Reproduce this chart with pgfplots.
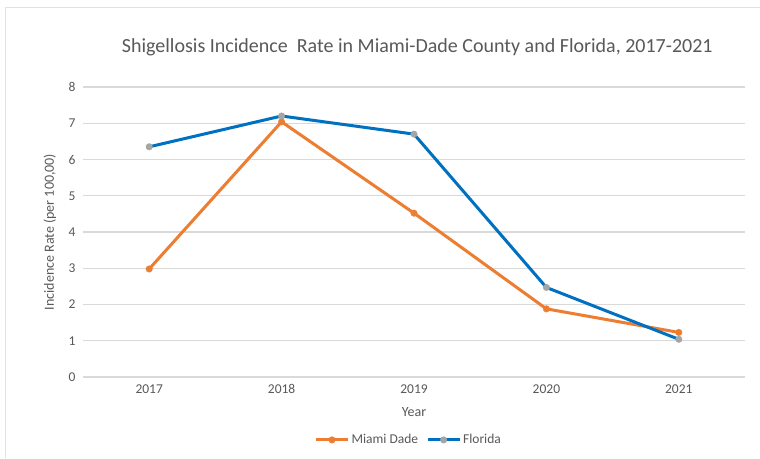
\documentclass[border=0pt]{standalone}
\usepackage{pgfplots}
\pgfplotsset{compat=1.18}
\usepackage{fontspec}
\setmainfont{Carlito}
\definecolor{mdorange}{HTML}{ED7D31}
\definecolor{flblue}{HTML}{0070C0}
\definecolor{mkgray}{HTML}{A5A5A5}
\definecolor{gridc}{HTML}{D9D9D9}
\definecolor{txt}{HTML}{595959}
\begin{document}
\begin{tikzpicture}[x=1pt,y=1pt]
\path[use as bounding box] (0,0) rectangle (760,458);
\fill[white] (0,0) rectangle (760,458);
\draw[gridc!80!white, line width=1pt] (5,0) -- (5,450) -- (760,450);
\begin{axis}[
  at={(83pt,81pt)}, anchor=south west,
  scale only axis, width=662pt, height=290pt,
  xmin=-0.5, xmax=4.5, ymin=0, ymax=8,
  xtick={0,1,2,3,4}, xticklabels={2017,2018,2019,2020,2021},
  ytick={0,1,...,8},
  axis line style={draw=none},
  tick style={draw=none},
  ymajorgrids, grid style={gridc, line width=1.2pt},
  /pgf/number format/assume math mode=true,
  ticklabel style={font=\fontsize{13.5}{15}\selectfont, text=txt},
  yticklabel style={xshift=-4pt},
  xticklabel style={yshift=-4pt, text height=9pt, text depth=0pt, anchor=north},
  title={Shigellosis Incidence\ \ Rate in Miami-Dade County and Florida, 2017-2021},
  title style={at={(rel axis cs:0.505,1.117)}, anchor=center, font=\fontsize{20}{23}\selectfont, text=txt},
  xlabel={Year},
  xlabel style={at={(rel axis cs:0.5,-0.121)}, anchor=center, font=\fontsize{14}{16}\selectfont, text=txt},
  ylabel={Incidence Rate (per 100,00)},
  ylabel style={at={(rel axis cs:-0.05,0.5)}, anchor=center, rotate=0, font=\fontsize{14}{16}\selectfont, text=txt},
  legend style={at={(rel axis cs:0.492,-0.217)}, anchor=center, draw=none, fill=none,
    font=\fontsize{13.5}{15}\selectfont, text=txt, legend columns=2,
    /tikz/every even column/.append style={column sep=6pt}},
  legend image code/.code={\draw[line width=3pt, mark repeat=2,mark phase=2] plot coordinates {(0pt,0pt) (16pt,0pt) (32pt,0pt)};},
]
\addplot[mdorange, line width=3pt, mark=*, mark size=3.3pt, mark options={solid, fill=mdorange, draw=mdorange, line width=0.3pt}]
  coordinates {(0,2.98) (1,7.04) (2,4.52) (3,1.88) (4,1.23)};
\addlegendentry{Miami Dade}
\addplot[flblue, line width=3pt, mark=*, mark size=3.3pt, mark options={solid, fill=mkgray, draw=mkgray, line width=0.3pt}]
  coordinates {(0,6.35) (1,7.20) (2,6.70) (3,2.47) (4,1.04)};
\addlegendentry{Florida}
\end{axis}
\end{tikzpicture}
\end{document}
